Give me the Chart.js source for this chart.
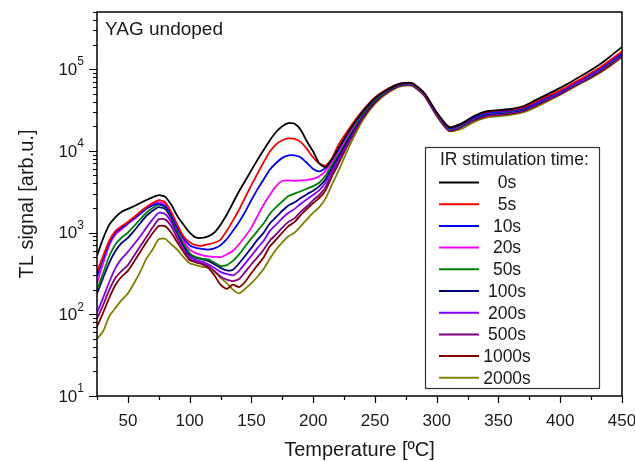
<!DOCTYPE html>
<html>
<head>
<meta charset="utf-8">
<script src="https://cdn.jsdelivr.net/npm/chart.js@4.4.0/dist/chart.umd.min.js"></script>
<style>
  body { margin: 0; background: #fff; }
  #wrap { width: 635px; height: 461px; position: relative; }
</style>
</head>
<body>
<div id="wrap"><canvas id="tlChart"></canvas></div>
<script>
// temperature grid (ºC)
const temps = [25, 30, 35, 40, 45, 50, 55, 60, 65, 70, 75, 80, 85, 90, 95, 100, 105, 110, 115, 120,
  125, 130, 135, 140, 145, 150, 155, 160, 165, 170, 175, 180, 185, 190, 195, 200, 205, 210, 215, 220,
  230, 240, 250, 260, 270, 280, 290, 300, 310, 320, 330, 340, 350, 360, 370, 380, 390, 400, 410, 420, 430, 440, 450];

const seriesLabels = ['0s', '5s', '10s', '20s', '50s', '100s', '200s', '500s', '1000s', '2000s'];

const ir0s = [520, 850, 1250, 1550, 1800, 1950, 2100, 2300, 2500, 2700, 2870, 2750, 2200, 1600, 1250, 1000, 870, 860, 900, 1000,
  1250, 1650, 2300, 3200, 4300, 5800, 7800, 10300, 13500, 17000, 20000, 21800, 21500, 18000, 13000, 9800, 7000, 6300, 7800, 10500,
  18500, 30000, 44000, 56000, 66000, 67500, 51000, 29500, 19500, 21500, 26500, 30500, 31500, 32500, 35100, 41700, 49500, 59000, 71600, 88000, 109000, 141000, 187000];
const ir5s = [330, 520, 800, 1050, 1200, 1350, 1550, 1800, 2050, 2300, 2500, 2350, 1800, 1250, 900, 760, 700, 690, 720, 750,
  820, 1050, 1400, 1900, 2700, 3800, 5300, 7300, 9800, 12000, 13500, 14200, 14000, 12800, 10500, 8300, 7000, 6600, 8000, 11500,
  19500, 31000, 45000, 57000, 66500, 67000, 50500, 29500, 19500, 21500, 26500, 30000, 31000, 32000, 34000, 40000, 47000, 55000, 67000, 81000, 100000, 128000, 165000];
const ir10s = [290, 480, 750, 1000, 1150, 1300, 1500, 1700, 1950, 2150, 2250, 2100, 1650, 1150, 850, 700, 650, 630, 620, 640,
  700, 830, 1050, 1350, 1800, 2500, 3400, 4500, 5900, 7100, 8200, 8800, 8800, 8300, 7100, 6000, 5600, 6200, 7800, 10200,
  18500, 30000, 44000, 56000, 65500, 66500, 50000, 29000, 19000, 21000, 25500, 29000, 30000, 31000, 33000, 38500, 45500, 53500, 65000, 78000, 96000, 122000, 155000];
const ir20s = [240, 420, 700, 950, 1100, 1280, 1450, 1700, 1950, 2200, 2350, 2200, 1700, 1150, 800, 620, 560, 530, 510, 505,
  500, 540, 600, 720, 900, 1150, 1600, 2200, 2900, 3700, 4300, 4350, 4300, 4350, 4400, 4550, 4900, 5700, 7300, 9500,
  17500, 29500, 43500, 55500, 65500, 66000, 49500, 28500, 19000, 21000, 25500, 29000, 30000, 31000, 33000, 38500, 45000, 53000, 64500, 77000, 95000, 121000, 153000];
const ir50s = [200, 320, 520, 720, 870, 1000, 1200, 1450, 1750, 2000, 2200, 2050, 1600, 1050, 750, 560, 500, 480, 470, 430,
  390, 400, 450, 540, 680, 850, 1050, 1300, 1700, 2050, 2400, 2800, 3000, 3200, 3450, 3700, 4100, 5000, 6700, 9000,
  16500, 28000, 42000, 54500, 64500, 65500, 49000, 28500, 18500, 20500, 25000, 28500, 29500, 30500, 32500, 38000, 44500, 52500, 63500, 76000, 94000, 119000, 150000];
const ir100s = [180, 280, 430, 600, 750, 860, 1050, 1300, 1600, 1850, 2050, 1950, 1500, 1000, 700, 540, 490, 470, 450, 410,
  370, 345, 350, 420, 520, 650, 820, 1000, 1300, 1550, 1850, 2150, 2350, 2650, 2950, 3250, 3700, 4500, 6200, 8300,
  15500, 27000, 41000, 54000, 64000, 65000, 48500, 28000, 18500, 20500, 24500, 28000, 29000, 30000, 32000, 37500, 44000, 51500, 63000, 75000, 93000, 118000, 149000];
const ir200s = [105, 160, 250, 370, 480, 580, 720, 900, 1150, 1450, 1750, 1700, 1350, 950, 680, 510, 460, 440, 410, 370,
  330, 310, 300, 340, 420, 520, 650, 800, 1050, 1250, 1500, 1750, 1950, 2250, 2550, 2900, 3300, 4100, 5700, 7800,
  15000, 26500, 40500, 53500, 63500, 64500, 48500, 28000, 18000, 20000, 24500, 27500, 28500, 29500, 31500, 37000, 43500, 51000, 62000, 74000, 92000, 116000, 147000];
const ir500s = [88, 130, 200, 280, 340, 400, 520, 680, 880, 1150, 1450, 1450, 1200, 850, 620, 480, 445, 420, 390, 340,
  290, 265, 255, 270, 330, 410, 500, 620, 800, 950, 1150, 1350, 1500, 1800, 2100, 2500, 2900, 3600, 5200, 7200,
  14000, 25500, 40000, 52500, 63000, 64000, 48000, 27500, 18000, 20000, 24000, 27000, 28000, 29000, 31000, 36000, 42500, 50000, 61000, 73000, 90000, 114000, 145000];
const ir1000s = [70, 105, 160, 230, 290, 340, 440, 580, 760, 980, 1200, 1200, 1000, 760, 580, 460, 430, 410, 370, 300,
  230, 205, 230, 215, 250, 320, 400, 500, 680, 820, 1000, 1200, 1350, 1650, 1950, 2300, 2650, 3300, 4800, 6700,
  13500, 25000, 39000, 52000, 62500, 63500, 47500, 27000, 17500, 19500, 23500, 26500, 27500, 28500, 30500, 35500, 42000, 49500, 60000, 72000, 88000, 111000, 142000];
const ir2000s = [50, 62, 95, 120, 150, 180, 240, 330, 480, 620, 830, 840, 720, 620, 500, 420, 400, 380, 370, 330,
  280, 240, 200, 180, 205, 240, 290, 360, 480, 620, 760, 900, 1000, 1200, 1450, 1750, 2050, 2600, 3800, 5500,
  12000, 23500, 37500, 50500, 61000, 62500, 47000, 26500, 17500, 18500, 22500, 25500, 26500, 27500, 29500, 34000, 40500, 48500, 59000, 71000, 86000, 108000, 140000];

const allSeries = [ir0s, ir5s, ir10s, ir20s, ir50s, ir100s, ir200s, ir500s, ir1000s, ir2000s];
const xTickValues = [50, 100, 150, 200, 250, 300, 350, 400, 450];
const yTickValues = [10, 100, 1000, 10000, 100000];

const colores = ['#000000', '#ff0000', '#0000ff', '#ff00ff', '#008000', '#000080', '#8000ff', '#800080', '#800000', '#808000'];
const FONT = 'Arial, "Liberation Sans", sans-serif';
const TXT = '#1a1a1a';

// dibuja marco, ticks, etiquetas del eje y, leyenda y título
const decorPlugin = {
    id: 'decor',
    afterDraw(chart) {
        const { ctx, chartArea: a, scales } = chart;
        const x = scales.x, y = scales.y;
        ctx.save();
        ctx.strokeStyle = '#000';
        ctx.lineWidth = 1.5;
        ctx.strokeRect(a.left, a.top, a.right - a.left, a.bottom - a.top);

        ctx.lineWidth = 1.2;
        ctx.beginPath();
        for (let v = 25; v <= 450; v += 25) {
            const px = Math.round(x.getPixelForValue(v)) + 0.5;
            const len = v % 50 === 0 ? 7 : 4;
            ctx.moveTo(px, a.bottom);
            ctx.lineTo(px, a.bottom + len);
        }
        for (let d = 10; d <= y.max; d *= 10) {
            for (let m = 1; m <= 9; m++) {
                const v = m * d;
                if (v > y.max) break;
                const py = Math.round(y.getPixelForValue(v)) + 0.5;
                const len = m === 1 ? 8 : 4;
                ctx.moveTo(a.left, py);
                ctx.lineTo(a.left - len, py);
            }
        }
        ctx.stroke();

        // etiquetas 10^n
        ctx.fillStyle = TXT;
        ctx.textBaseline = 'middle';
        yTickValues.forEach((v) => {
            const py = y.getPixelForValue(v);
            const exp = String(Math.round(Math.log10(v)));
            ctx.font = '12px ' + FONT;
            const ew = ctx.measureText(exp).width;
            const right = a.left - 13;
            ctx.textAlign = 'left';
            ctx.fillText(exp, right - ew, py - 7);
            ctx.font = '17px ' + FONT;
            ctx.textAlign = 'right';
            ctx.fillText('10', right - ew, py + 1);
        });

        // título interno
        ctx.font = '19px ' + FONT;
        ctx.textAlign = 'left';
        ctx.textBaseline = 'alphabetic';
        ctx.fillText('YAG undoped', a.left + 8, a.top + 23);

        // leyenda
        const lx = 425, ly = 147, lw = 174, lh = 241;
        ctx.fillStyle = '#fff';
        ctx.fillRect(lx, ly, lw, lh);
        ctx.strokeStyle = '#333';
        ctx.lineWidth = 1.2;
        ctx.strokeRect(lx + 0.5, ly + 0.5, lw, lh);
        ctx.fillStyle = TXT;
        ctx.font = '17.5px ' + FONT;
        ctx.textBaseline = 'middle';
        ctx.fillText('IR stimulation time:', 440, 160);
        chart.data.datasets.forEach((ds, i) => {
            const ry = 182.5 + i * 21.7;
            ctx.strokeStyle = ds.borderColor;
            ctx.lineWidth = 2;
            ctx.beginPath();
            ctx.moveTo(439, ry);
            ctx.lineTo(479, ry);
            ctx.stroke();
            ctx.textAlign = 'center';
            ctx.fillText(ds.label, 507, ry + 1);
        });
        ctx.restore();
    }
};

const datasets = allSeries.map((serie, i) => ({
    label: seriesLabels[i],
    data: temps.map((t, j) => ({ x: t, y: serie[j] })),
    borderColor: colores[i],
    backgroundColor: colores[i],
    borderWidth: 1.8,
    pointRadius: 0,
    tension: 0.2,
    fill: false,
}));

new Chart(document.getElementById('tlChart').getContext('2d'), {
    type: 'line',
    data: { datasets: datasets },
    options: {
        responsive: true,
        maintainAspectRatio: false,
        animation: false,
        layout: { padding: { left: 0, right: 13, top: 12, bottom: 0 } },
        plugins: { legend: { display: false }, tooltip: { enabled: false } },
        scales: {
            x: {
                type: 'linear',
                min: 25,
                max: 450,
                afterBuildTicks: (scale) => { scale.ticks = xTickValues.map((v) => ({ value: v })); },
                afterFit: (scale) => {
                    scale.height = 65;
                    scale.paddingLeft = 0;
                    scale.paddingRight = 0;
                },
                grid: { display: false },
                border: { display: false },
                ticks: { color: TXT, font: { family: FONT, size: 17 }, padding: 7, maxRotation: 0 },
                title: { display: true, text: 'Temperature [ºC]', color: TXT, font: { family: FONT, size: 20, lineHeight: 1.1 }, padding: { top: 0, bottom: 0 } },
            },
            y: {
                type: 'logarithmic',
                min: 10,
                max: 500000,
                afterBuildTicks: (scale) => { scale.ticks = yTickValues.map((v) => ({ value: v })); },
                afterFit: (scale) => {
                    scale.width = 97;
                    scale.paddingTop = 0;
                    scale.paddingBottom = 0;
                },
                grid: { display: false },
                border: { display: false },
                ticks: { display: false },
                title: { display: true, text: 'TL signal [arb.u.]', color: TXT, font: { family: FONT, size: 20 }, padding: { top: 15, bottom: 0 } },
            },
        },
    },
    plugins: [decorPlugin],
});
</script>
</body>
</html>
